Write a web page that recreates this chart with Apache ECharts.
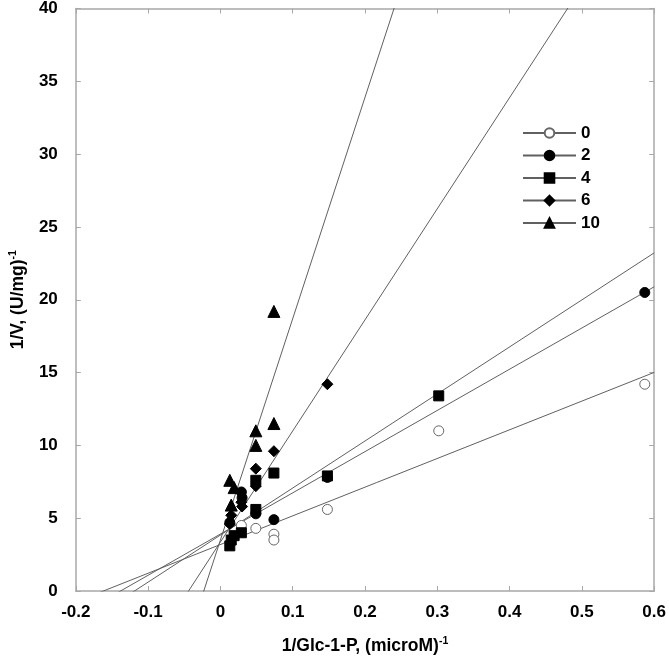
<!DOCTYPE html>
<html>
<head>
<meta charset="utf-8">
<script src="https://cdn.jsdelivr.net/npm/echarts@6/dist/echarts.min.js"></script>
<style>
html,body{margin:0;padding:0;background:#fff;}
#chart{width:669px;height:667px;}
</style>
</head>
<body>
<div id="chart"></div>
<script>
// ---- data ----
const groupNames = ['0', '2', '4', '6', '10'];

const x0 = [0.029, 0.049, 0.074, 0.074, 0.148, 0.302, 0.587];
const y0 = [4.5, 4.3, 3.9, 3.5, 5.6, 11.0, 14.2];

const x2 = [0.013, 0.029, 0.030, 0.049, 0.074, 0.148, 0.587];
const y2 = [4.7, 6.8, 6.4, 5.3, 4.9, 7.8, 20.5];

const x4 = [0.013, 0.015, 0.019, 0.029, 0.049, 0.049, 0.074, 0.148, 0.302];
const y4 = [3.1, 3.5, 3.8, 4.0, 7.6, 5.6, 8.1, 7.9, 13.4];

const x6 = [0.013, 0.015, 0.029, 0.030, 0.049, 0.049, 0.074, 0.148];
const y6 = [4.6, 5.2, 6.1, 5.8, 8.4, 7.2, 9.6, 14.2];

const x10 = [0.013, 0.019, 0.015, 0.049, 0.049, 0.074, 0.074];
const y10 = [7.6, 7.1, 5.9, 11.0, 10.0, 11.5, 19.2];

// fitted lines (Lineweaver-Burk): y = slope * x + intercept
const lineSlopes = [19.7, 28.3, 32.3, 76.3, 152];
const lineIntercepts = [3.19, 3.91, 3.84, 3.36, 3.5];

const xTickMin = -0.2, xTickMax = 0.6, xTickStep = 0.1;
const yTickMin = 0, yTickMax = 40, yTickStep = 5;

// ---- build ----
const xs = [x0, x2, x4, x6, x10];
const ys = [y0, y2, y4, y6, y10];
const symbols = ['circle', 'circle', 'rect', 'diamond', 'triangle'];
const sizes = [10, 10, 10, 11, 12];
const fills = ['#ffffff', '#000000', '#000000', '#000000', '#000000'];
const borders = ['#666666', '#000000', '#000000', '#000000', '#000000'];

const FONT = "'Liberation Sans', Arial, sans-serif";
const FRAME = '#a8a8a8';

const series = [];
groupNames.forEach((name, i) => {
  const lineData = [xTickMin, xTickMax].map(x => [x, lineSlopes[i] * x + lineIntercepts[i]]);
  series.push({
    type: 'line',
    name: name,
    data: lineData,
    showSymbol: false,
    symbol: symbols[i],
    clip: true,
    silent: true,
    z: 2,
    lineStyle: { color: '#606060', width: 1 },
    itemStyle: { color: fills[i], borderColor: borders[i], borderWidth: 1 }
  });
});
groupNames.forEach((name, i) => {
  series.push({
    type: 'scatter',
    name: name,
    data: xs[i].map((x, k) => [x, ys[i][k]]),
    symbol: symbols[i],
    symbolSize: sizes[i],
    clip: true,
    z: 3,
    itemStyle: { color: fills[i], borderColor: borders[i], borderWidth: 1, opacity: 1 }
  });
});

const axisCommon = {
  type: 'value',
  splitLine: { show: false },
  axisLine: { show: true, onZero: false, lineStyle: { color: FRAME, width: 1.5 } },
  axisTick: { show: true, inside: true, length: 5, lineStyle: { color: FRAME, width: 1 } }
};

const nameStyle = {
  color: '#000', fontSize: 17.5, fontWeight: 'bold', fontFamily: FONT, lineHeight: 20,
  rich: { sup: { fontSize: 10.5, fontWeight: 'bold', verticalAlign: 'top', lineHeight: 20, color: '#000', fontFamily: FONT } }
};

const option = {
  backgroundColor: '#ffffff',
  animation: false,
  textStyle: { fontFamily: FONT },
  grid: { left: 73, right: 10, top: 6, bottom: 76, containLabel: false },
  legend: {
    data: groupNames,
    orient: 'vertical',
    left: 522,
    top: 124.5,
    padding: 0,
    itemWidth: 53,
    itemHeight: 12,
    itemGap: 5.5,
    selectedMode: false,
    textStyle: { fontFamily: FONT, fontSize: 17, fontWeight: 'bold', color: '#000' }
  },
  xAxis: [
    Object.assign({}, axisCommon, {
      position: 'bottom',
      min: xTickMin, max: xTickMax, interval: xTickStep,
      axisLabel: { margin: 13, color: '#000', fontSize: 17, fontWeight: 'bold', fontFamily: FONT },
      name: '1/Glc-1-P, (microM){sup|-1}',
      nameLocation: 'middle',
      nameGap: 45,
      nameTextStyle: nameStyle
    }),
    Object.assign({}, axisCommon, {
      position: 'top',
      min: xTickMin, max: xTickMax, interval: xTickStep,
      axisLabel: { show: false }
    })
  ],
  yAxis: [
    Object.assign({}, axisCommon, {
      position: 'left',
      min: yTickMin, max: yTickMax, interval: yTickStep,
      axisLabel: { margin: 18, color: '#000', fontSize: 17, fontWeight: 'bold', fontFamily: FONT },
      name: '1/V, (U/mg){sup|-1}',
      nameLocation: 'middle',
      nameGap: 43,
      nameTextStyle: nameStyle
    }),
    Object.assign({}, axisCommon, {
      position: 'right',
      min: yTickMin, max: yTickMax, interval: yTickStep,
      axisLabel: { show: false }
    })
  ],
  series: series
};

const chart = echarts.init(document.getElementById('chart'), null, { renderer: 'canvas' });
chart.setOption(option);
</script>
</body>
</html>
